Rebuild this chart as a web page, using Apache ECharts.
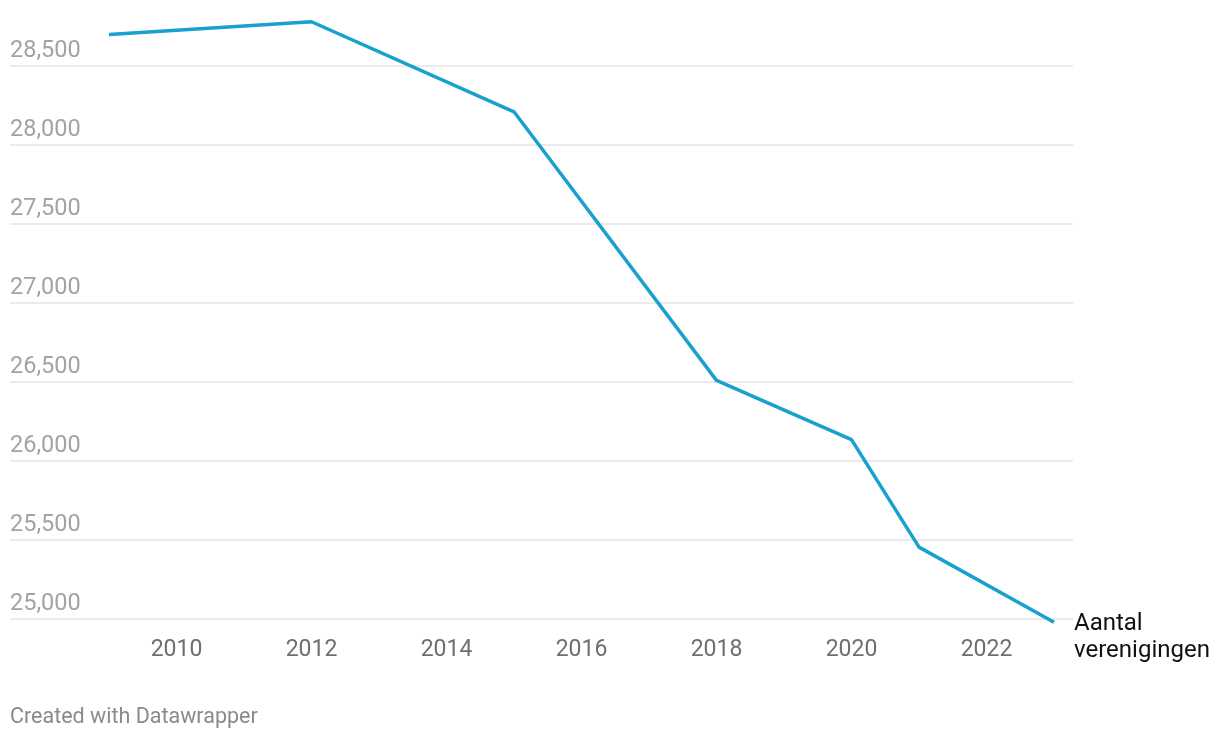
<!DOCTYPE html>
<html>
<head>
<meta charset="utf-8">
<script src="https://cdn.jsdelivr.net/npm/echarts@6/dist/echarts.min.js"></script>
<style>html,body{margin:0;padding:0;background:#fff}#c{width:1220px;height:738px}</style>
</head>
<body>
<div id="c"></div>
<script>
const years = [2009, 2012, 2015, 2018, 2020, 2021, 2023];
const values = [28700, 28780, 28210, 26510, 26135, 25455, 24980];
const xTickLabels = [2010, 2012, 2014, 2016, 2018, 2020, 2022];
const yTicks = [25000, 25500, 26000, 26500, 27000, 27500, 28000, 28500];
const seriesName = 'Aantal verenigingen';
const credit = 'Created with Datawrapper';

const chart = echarts.init(document.getElementById('c'), null, {renderer: 'canvas'});
const fmt = v => v.toLocaleString('en-US');
chart.setOption({
  animation: false,
  textStyle: {fontFamily: 'Roboto'},
  title: {
    text: credit, left: 5, top: 702,
    textStyle: {fontFamily: 'Roboto', fontSize: 21.5, fontWeight: 'normal', color: '#8a8a8a'}
  },
  grid: {left: 10, right: 147, top: 66, bottom: 119, containLabel: false},
  xAxis: {
    type: 'value',
    min: 2007.5333, max: 2023.2815,
    axisLine: {show: false}, axisTick: {show: false}, splitLine: {show: false},
    axisLabel: {
      customValues: xTickLabels,
      formatter: v => String(v),
      fontFamily: 'Roboto', fontSize: 23, color: '#6f6f6f', margin: 19, lineHeight: 24
    }
  },
  yAxis: {
    type: 'value',
    min: yTicks[0], max: yTicks[yTicks.length - 1], interval: 500,
    axisLine: {show: false}, axisTick: {show: false},
    splitLine: {lineStyle: {color: '#e3e3e3', width: 1.5}},
    axisLabel: {
      inside: true, margin: 0, formatter: v => fmt(v),
      verticalAlign: 'bottom', align: 'left', padding: [0, 0, 3, 0], lineHeight: 24,
      fontFamily: 'Roboto', fontSize: 23.5, color: '#a3a3a3'
    }
  },
  series: [{
    type: 'line', name: seriesName,
    data: years.map((y, i) => [y, values[i]]),
    clip: false, symbol: 'none',
    lineStyle: {color: '#18a1cd', width: 3.5},
    endLabel: {
      show: true, formatter: 'Aantal\nverenigingen',
      fontFamily: 'Roboto', fontSize: 24, lineHeight: 27, color: '#111',
      distance: 20, offset: [0, 15], align: 'left'
    }
  }]
});
</script>
</body>
</html>
